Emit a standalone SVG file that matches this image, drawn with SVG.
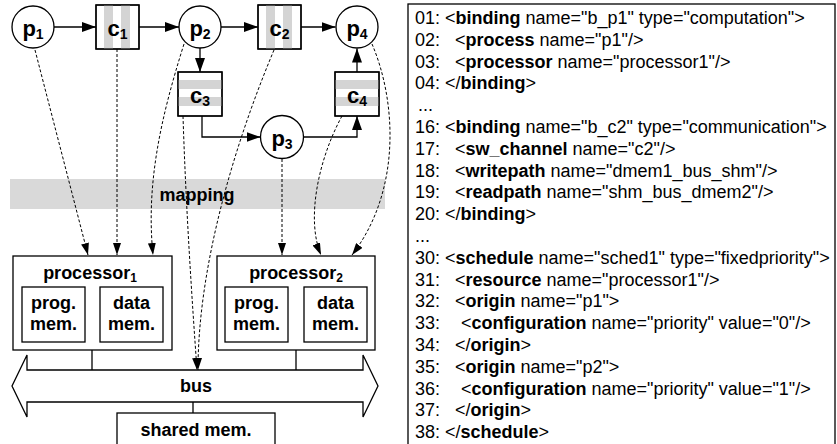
<svg xmlns="http://www.w3.org/2000/svg" width="837" height="444" viewBox="0 0 837 444">
<style>
.ln{fill:none;stroke:#000;stroke-width:1.3}
.box{fill:#fff;stroke:#000;stroke-width:1.3}
.frame{fill:none;stroke:#000;stroke-width:1.3}
.stripe{fill:#d4d4d4}
.dash{fill:none;stroke:#000;stroke-width:1;stroke-dasharray:3 2}
.lbl{font-family:"Liberation Sans",Arial,sans-serif;font-weight:bold;fill:#000;text-anchor:middle}
.nd{font-size:22px}
.sub{font-size:14px}
.t18{font-size:18px}
.code{font-family:"Liberation Sans",Arial,sans-serif;font-size:18px;fill:#000}
.b{font-weight:bold}
</style>
<defs>
<marker id="ah" markerUnits="userSpaceOnUse" markerWidth="14" markerHeight="10" refX="14" refY="5" orient="auto"><path d="M0,0 L14,5 L0,10 z" fill="#000"/></marker>
<marker id="dh" markerUnits="userSpaceOnUse" markerWidth="12" markerHeight="8" refX="12" refY="4" orient="auto"><path d="M0,0 L12,4 L0,8 z" fill="#000"/></marker>
</defs>

<rect x="10" y="179" width="375" height="30" fill="#d9d9d9"/>
<text class="lbl t18" x="197" y="201">mapping</text>

<g id="connectors">
<path class="ln" d="M54,27 H96" marker-end="url(#ah)"/>
<path class="ln" d="M139,27 H179" marker-end="url(#ah)"/>
<path class="ln" d="M221,27 H258" marker-end="url(#ah)"/>
<path class="ln" d="M301,27 H335.5" marker-end="url(#ah)"/>
<path class="ln" d="M200,48 V72" marker-end="url(#ah)"/>
<path class="ln" d="M202,116 V137 H260.5" marker-end="url(#ah)"/>
<path class="ln" d="M303.5,137 H357 V116" marker-end="url(#ah)"/>
<path class="ln" d="M357,72 V48.5" marker-end="url(#ah)"/>
<path class="dash" d="M35,50 L88,255" marker-end="url(#dh)"/>
<path class="dash" d="M117,49 V255" marker-end="url(#dh)"/>
<path class="dash" d="M184,44 C160,120 146,185 153,255" marker-end="url(#dh)"/>
<path class="dash" d="M183,116 C186,210 192,300 197,370" marker-end="url(#dh)"/>
<path class="dash" d="M274,50 C232,150 198,270 198,370" marker-end="url(#dh)"/>
<path class="dash" d="M282,159 V255" marker-end="url(#dh)"/>
<path class="dash" d="M342,116 C318,160 306,220 321,255" marker-end="url(#dh)"/>
<path class="dash" d="M372,44 C396,100 402,190 352,255" marker-end="url(#dh)"/>
<path class="ln" d="M92,350 V370"/>
<path class="ln" d="M296,350 V370"/>
<path class="ln" d="M193,402 V413"/>
</g>

<g id="p1"><circle class="box" cx="33" cy="27" r="21"/><text class="lbl nd" x="33" y="36">p<tspan class="sub" dy="3">1</tspan></text></g>
<g id="c1"><rect class="box" x="96" y="5" width="43" height="44"/><rect class="stripe" x="104" y="5" width="9" height="44"/><rect class="stripe" x="121" y="5" width="9" height="44"/><rect class="frame" x="96" y="5" width="43" height="44"/><text class="lbl nd" x="117.5" y="36">c<tspan class="sub" dy="3">1</tspan></text></g>
<g id="p2"><circle class="box" cx="200" cy="27" r="21"/><text class="lbl nd" x="200" y="36">p<tspan class="sub" dy="3">2</tspan></text></g>
<g id="c2"><rect class="box" x="258" y="5" width="43" height="44"/><rect class="stripe" x="266" y="5" width="9" height="44"/><rect class="stripe" x="283" y="5" width="9" height="44"/><rect class="frame" x="258" y="5" width="43" height="44"/><text class="lbl nd" x="279.5" y="36">c<tspan class="sub" dy="3">2</tspan></text></g>
<g id="p4"><circle class="box" cx="357" cy="27" r="21"/><text class="lbl nd" x="357" y="36">p<tspan class="sub" dy="3">4</tspan></text></g>
<g id="c3"><rect class="box" x="178" y="72" width="44" height="44"/><rect class="stripe" x="178" y="80" width="44" height="9"/><rect class="stripe" x="178" y="97" width="44" height="9"/><rect class="frame" x="178" y="72" width="44" height="44"/><text class="lbl nd" x="200" y="103">c<tspan class="sub" dy="3">3</tspan></text></g>
<g id="c4"><rect class="box" x="335" y="72" width="44" height="44"/><rect class="stripe" x="335" y="80" width="44" height="9"/><rect class="stripe" x="335" y="97" width="44" height="9"/><rect class="frame" x="335" y="72" width="44" height="44"/><text class="lbl nd" x="357" y="103">c<tspan class="sub" dy="3">4</tspan></text></g>
<g id="p3"><circle class="box" cx="282" cy="137" r="21.5"/><text class="lbl nd" x="282" y="146">p<tspan class="sub" dy="3">3</tspan></text></g>

<g id="processor1">
<rect class="box" x="13" y="256" width="159" height="94"/>
<text class="lbl t18" x="90" y="279">processor<tspan font-size="12px" dy="3">1</tspan></text>
<rect class="box" x="22" y="287" width="63" height="55"/>
<text class="lbl t18" x="53.5" y="309">prog.</text><text class="lbl t18" x="53.5" y="330">mem.</text>
<rect class="box" x="100" y="287" width="63" height="55"/>
<text class="lbl t18" x="131.5" y="309">data</text><text class="lbl t18" x="131.5" y="330">mem.</text>
</g>
<g id="processor2">
<rect class="box" x="217" y="256" width="158" height="94"/>
<text class="lbl t18" x="296" y="279">processor<tspan font-size="12px" dy="3">2</tspan></text>
<rect class="box" x="225" y="287" width="63" height="55"/>
<text class="lbl t18" x="256.5" y="309">prog.</text><text class="lbl t18" x="256.5" y="330">mem.</text>
<rect class="box" x="304" y="287" width="63" height="55"/>
<text class="lbl t18" x="335.5" y="309">data</text><text class="lbl t18" x="335.5" y="330">mem.</text>
</g>
<g id="bus">
<path class="box" d="M27,370 H363 V355 L378,386 L363,417 V402 H27 V417 L12,386 L27,355 Z"/>
<text class="lbl t18" x="196" y="392">bus</text>
</g>
<g id="shared_mem">
<rect class="box" x="117" y="413" width="158" height="40"/>
<text class="lbl t18" x="196" y="436">shared mem.</text>
</g>

<g id="code">
<rect class="frame" x="408" y="4" width="427" height="450"/>
<text class="code" x="415" y="24">01: <tspan x="445">&lt;<tspan class="b">binding</tspan> name="b_p1" type="computation"&gt;</tspan></text>
<text class="code" x="415" y="45.8">02: <tspan x="455">&lt;<tspan class="b">process</tspan> name="p1"/&gt;</tspan></text>
<text class="code" x="415" y="67.6">03: <tspan x="455">&lt;<tspan class="b">processor</tspan> name="processor1"/&gt;</tspan></text>
<text class="code" x="415" y="89.4">04: <tspan x="445">&lt;/<tspan class="b">binding</tspan>&gt;</tspan></text>
<text class="code" x="418" y="111.2">...</text>
<text class="code" x="415" y="133">16: <tspan x="445">&lt;<tspan class="b">binding</tspan> name="b_c2" type="communication"&gt;</tspan></text>
<text class="code" x="415" y="154.8">17: <tspan x="455">&lt;<tspan class="b">sw_channel</tspan> name="c2"/&gt;</tspan></text>
<text class="code" x="415" y="176.6">18: <tspan x="455">&lt;<tspan class="b">writepath</tspan> name="dmem1_bus_shm"/&gt;</tspan></text>
<text class="code" x="415" y="198.4">19: <tspan x="455">&lt;<tspan class="b">readpath</tspan> name="shm_bus_dmem2"/&gt;</tspan></text>
<text class="code" x="415" y="220.2">20: <tspan x="445">&lt;/<tspan class="b">binding</tspan>&gt;</tspan></text>
<text class="code" x="415" y="242">...</text>
<text class="code" x="415" y="263.8">30: <tspan x="445">&lt;<tspan class="b">schedule</tspan> name="sched1" type="fixedpriority"&gt;</tspan></text>
<text class="code" x="415" y="285.6">31: <tspan x="455">&lt;<tspan class="b">resource</tspan> name="processor1"/&gt;</tspan></text>
<text class="code" x="415" y="307.4">32: <tspan x="455">&lt;<tspan class="b">origin</tspan> name="p1"&gt;</tspan></text>
<text class="code" x="415" y="329.2">33: <tspan x="461">&lt;<tspan class="b">configuration</tspan> name="priority" value="0"/&gt;</tspan></text>
<text class="code" x="415" y="351">34: <tspan x="455">&lt;/<tspan class="b">origin</tspan>&gt;</tspan></text>
<text class="code" x="415" y="372.8">35: <tspan x="455">&lt;<tspan class="b">origin</tspan> name="p2"&gt;</tspan></text>
<text class="code" x="415" y="394.6">36: <tspan x="461">&lt;<tspan class="b">configuration</tspan> name="priority" value="1"/&gt;</tspan></text>
<text class="code" x="415" y="416.4">37: <tspan x="455">&lt;/<tspan class="b">origin</tspan>&gt;</tspan></text>
<text class="code" x="415" y="438.2">38: <tspan x="445">&lt;/<tspan class="b">schedule</tspan>&gt;</tspan></text>
</g>
</svg>
